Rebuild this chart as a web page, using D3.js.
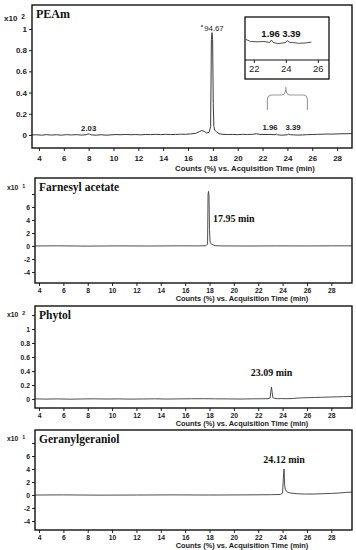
<!DOCTYPE html>
<html><head><meta charset="utf-8">
<script src="https://cdn.jsdelivr.net/npm/d3@7"></script>
<style>body{margin:0;background:#fff}svg{display:block}</style>
</head><body>
<svg id="c" width="356" height="550"></svg>
<script>
// ---------- DATA ----------
const xTicks = [4,6,8,10,12,14,16,18,20,22,24,26,28];
const insetTicks = [22,24,26];

const peamTime = [3.45,3.8,4.2,4.6,5.0,5.4,5.8,6.2,6.6,7.0,7.4,7.8,7.95,8.05,8.2,8.6,9.0,9.4,9.8,10.2,10.6,11.0,11.4,11.8,12.2,12.6,13.0,13.4,13.8,14.2,14.6,15.0,15.4,15.8,16.2,16.6,16.9,17.1,17.3,17.5,17.7,17.82,17.88,17.93,17.98,18.03,18.08,18.15,18.3,18.5,18.8,19.2,19.6,20.0,20.4,20.8,21.2,21.5,21.8,22.2,22.6,23.0,23.1,23.2,23.5,23.8,24.0,24.1,24.25,24.5,24.8,25.2,25.6,26.0,26.4,26.8,27.2,27.6,28.0,28.4,28.8,29.2];
const peamCounts = [0.000,0.002,-0.002,0.003,-0.001,0.002,-0.002,0.003,0.000,0.003,-0.001,0.002,0.010,0.008,0.001,-0.002,0.002,-0.002,0.001,0.004,0.002,0.005,0.002,0.004,0.001,0.005,0.003,0.006,0.003,0.006,0.004,0.005,0.007,0.006,0.010,0.015,0.030,0.042,0.035,0.018,0.025,0.080,0.900,0.965,0.900,0.300,0.080,0.045,0.030,0.012,0.006,0.004,0.005,0.003,0.006,0.004,0.006,0.012,0.005,0.004,0.005,0.002,0.010,0.002,-0.002,0.000,0.002,0.008,0.002,0.001,-0.001,0.000,0.003,0.004,0.006,0.007,0.009,0.008,0.010,0.011,0.012,0.013];
const peamYTicks = [0,0.2,0.4,0.6,0.8,1];
const peamLabels = ["2.03","*94.67","1.96","3.39"];
const peamLabelTime = [8.0,17.95,22.6,24.45];

const farnTime = [3.7,5.5,8,10.5,13,15.5,17.0,17.7,17.84,17.88,17.92,17.96,18.0,18.05,18.12,18.2,18.35,18.5,19,21,23.5,26,28,29.7];
const farnCounts = [0,0.02,-0.02,0.01,-0.01,0.02,0.01,0.03,0.3,8.0,8.4,7.6,2.5,0.6,0.35,0.25,0.1,0.03,0.01,-0.01,0.01,0,0.02,0.02];
const phytTime = [3.7,4.5,5.5,6.5,7.5,8.5,9.5,10.5,11.5,12.5,13.5,14.5,15.5,16.5,17.5,18.5,19.5,20.5,21.5,22.3,22.8,22.98,23.04,23.09,23.14,23.2,23.35,23.6,23.9,24.3,24.8,25.2,25.6,26,26.6,27.2,27.8,28.4,29,29.7];
const phytCounts = [0.002,-0.002,0.001,-0.003,0.000,0.002,-0.001,0.001,-0.002,0.000,0.002,-0.001,0.001,0.003,0.004,0.002,0.001,-0.001,0.002,0.003,0.004,0.015,0.12,0.17,0.10,0.02,0.008,0.003,0.006,0.004,0.006,0.012,0.016,0.018,0.021,0.024,0.027,0.030,0.033,0.036];
const gerTime = [3.7,6,9,12,15,18,21,23,23.8,24.0,24.06,24.12,24.17,24.22,24.3,24.45,24.7,25.2,25.8,26.5,27.3,28,28.6,29.2,29.7];
const gerCounts = [0,0.02,-0.02,0,0.02,0,0.02,0.05,0.08,0.3,2.5,4.0,1.5,0.9,0.6,0.4,0.3,0.2,0.15,0.15,0.2,0.25,0.3,0.4,0.45];
const smallYTicks = [-4,-2,0,2,4,6,8];
const phytYTicks = [0,0.2,0.4,0.6,0.8,1,1.2];

const names = ["PEAm","Farnesyl acetate","Phytol","Geranylgeraniol"];
const exps = ["2","1","2","1"];
const rtLabels = ["17.95 min","23.09 min","24.12 min"];
const rtTimes = [17.95,23.09,24.12];
const axisTitle = "Counts (%) vs. Acquisition Time (min)";

// ---------- DRAW ----------
const svg = d3.select("#c");
const traceColor = "#3a3a3a";
const sans = "'Liberation Sans', Arial, sans-serif";
const serif = "'Liberation Serif', 'Times New Roman', serif";

function panel(o){
  const g = svg.append("g");
  const x = d3.scaleLinear().domain(o.xd).range([o.l,o.r]);
  const y = d3.scaleLinear().domain(o.yd).range([o.b,o.t]);
  const pts = o.time.map((t,i)=>[t,o.vals[i]]);
  g.append("path").datum(pts)
    .attr("d", d3.line().x(d=>x(d[0])).y(d=>y(d[1])))
    .attr("fill","none").attr("stroke",traceColor).attr("stroke-width",o.sw||0.9);
  const ya = g.append("g").attr("transform",`translate(${o.l},0)`)
    .call(d3.axisLeft(y).tickValues(o.yt).tickSize(3).tickPadding(2)
      .tickFormat(d=> o.hideY.includes(d) ? "" : (o.yfmt ? o.yfmt(d) : d)));
  ya.select(".domain").remove();
  ya.selectAll("text").attr("font-family",sans).attr("font-weight","bold")
    .attr("font-size",o.fs).attr("fill","#222");
  ya.selectAll("line").attr("stroke","#222");
  const xa = g.append("g").attr("transform",`translate(0,${o.b})`)
    .call(d3.axisBottom(x).tickValues(xTicks).tickSize(3).tickPadding(o.xpad));
  xa.select(".domain").remove();
  xa.selectAll("text").attr("font-family",sans).attr("font-weight","bold")
    .attr("font-size",o.fs).attr("fill","#222");
  xa.selectAll("line").attr("stroke","#222");
  g.append("rect").attr("x",o.l).attr("y",o.t).attr("width",o.r-o.l).attr("height",o.b-o.t)
    .attr("fill","none").attr("stroke","#111").attr("stroke-width",1.4);
  const xl = g.append("text").attr("x",o.l-28).attr("y",o.xty)
    .attr("font-family",sans).attr("font-weight","bold").attr("font-size",o.fs).attr("fill","#222");
  xl.append("tspan").text("x10");
  xl.append("tspan").attr("dx",4).attr("dy",-2).attr("font-size",o.fs-1.5).text(o.exp);
  g.append("text").attr("x",o.l+4).attr("y",o.t+13).attr("font-family",serif)
    .attr("font-weight","bold").attr("font-size",o.nfs).attr("fill","#111").text(o.name);
  g.append("text").attr("x",o.titleX).attr("y",o.titleY).attr("text-anchor","middle")
    .attr("font-family",sans).attr("font-weight","bold").attr("font-size",o.tfs)
    .attr("fill","#222").text(axisTitle);
  return {g,x,y};
}

// Panel 1 PEAm
const p1 = panel({l:32,r:352,t:5,b:148,xd:[3.44,29.2],yd:[-0.123,1.226],
  time:peamTime,vals:peamCounts,yt:peamYTicks,hideY:[],yfmt:d=>d===0?"0":(d===1?"1":d3.format(".1f")(d)),
  fs:8,xpad:4,xty:21,exp:exps[0],name:names[0],nfs:12,titleX:245,titleY:171,tfs:7.8,sw:1});
peamLabels.forEach((s,i)=>{
  const yy = i===1 ? 31 : (i===0 ? 131 : 130);
  const t = p1.g.append("text").attr("x",p1.x(peamLabelTime[i])).attr("y",yy)
    .attr("text-anchor","middle").attr("font-family",sans).attr("font-weight","bold")
    .attr("font-size",7.8).attr("fill","#222");
  if(i===1){
    t.append("tspan").attr("font-size",6).attr("dy",-2).text("*");
    t.append("tspan").attr("dy",2).attr("dx",1).attr("font-weight","normal").text(s.slice(1));
  } else t.text(s);
});
// inset
{
  const ix = d3.scaleLinear().domain([21.45,26.7]).range([245,329]);
  const g = p1.g.append("g");
  g.append("rect").attr("x",245).attr("y",17).attr("width",84).attr("height",62)
    .attr("fill","#fff").attr("stroke","#111").attr("stroke-width",1.3);
  const iy = d3.scaleLinear().domain([0,0.01]).range([43,40]);
  const sub = peamTime.map((t,i)=>[t,peamCounts[i]]).filter(d=>d[0]>=21.5&&d[0]<=25.75);
  g.append("path").datum(sub).attr("d",d3.line().x(d=>ix(d[0])).y(d=>iy(d[1])))
    .attr("fill","none").attr("stroke",traceColor).attr("stroke-width",0.9);
  const ia = g.append("g").attr("transform","translate(0,60)")
    .call(d3.axisBottom(ix).tickValues(insetTicks).tickFormat(d3.format("d")).tickSize(3).tickPadding(2));
  ia.select(".domain").remove();
  ia.selectAll("line").attr("stroke","#222");
  g.append("line").attr("x1",245).attr("x2",329).attr("y1",60).attr("y2",60).attr("stroke","#111").attr("stroke-width",1.2);
  ia.selectAll("text").attr("font-family",sans).attr("font-size",9.5).attr("fill","#222");
  [["1.96",23.05],["3.39",24.35]].forEach(d=>{
    g.append("text").attr("x",ix(d[1])).attr("y",37).attr("text-anchor","middle")
      .attr("font-family",sans).attr("font-weight","bold").attr("font-size",9.5).attr("fill","#111").text(d[0]);
  });
  const cx = ix(24), x0 = ix(22.85), x1 = ix(25.35);
  g.append("path").attr("d",
    `M${x0},110 L${x0},100 Q${x0},95 ${x0+5},95 L${cx-4},95 Q${cx},95 ${cx},87 Q${cx},95 ${cx+4},95 L${x1-5},95 Q${x1},95 ${x1},100 L${x1},110`)
    .attr("fill","none").attr("stroke","#999").attr("stroke-width",1.1);
}

const common = {l:35,r:352,xd:[3.67,29.7],fs:6.8,xpad:2,nfs:11.5,titleX:242,tfs:7.4,sw:0.9};
const p2 = panel(Object.assign({},common,{t:178,b:283,yd:[-5.7,10.46],time:farnTime,vals:farnCounts,
  yt:smallYTicks,hideY:[8],xty:190,exp:exps[1],name:names[1],titleY:301}));
const p3 = panel(Object.assign({},common,{t:306,b:408,yd:[-0.129,1.329],time:phytTime,vals:phytCounts,
  yt:phytYTicks,hideY:[1.2],yfmt:d=>d===0?"0":(d===1?"1":d3.format(".1f")(d)),xty:317,exp:exps[2],name:names[2],titleY:426}));
const p4 = panel(Object.assign({},common,{t:430,b:530,yd:[-5.38,10],time:gerTime,vals:gerCounts,
  yt:smallYTicks,hideY:[8],xty:441,exp:exps[3],name:names[3],titleY:548}));

[[p2,0,222],[p3,1,376],[p4,2,463]].forEach(([p,i,yy])=>{
  p.g.append("text").attr("x",p.x(rtTimes[i])+(i===0?4:0)).attr("y",yy)
    .attr("text-anchor",i===0?"start":"middle").attr("font-family",serif).attr("font-weight","bold")
    .attr("font-size",10).attr("fill","#111").text(rtLabels[i]);
});
</script>
</body></html>
